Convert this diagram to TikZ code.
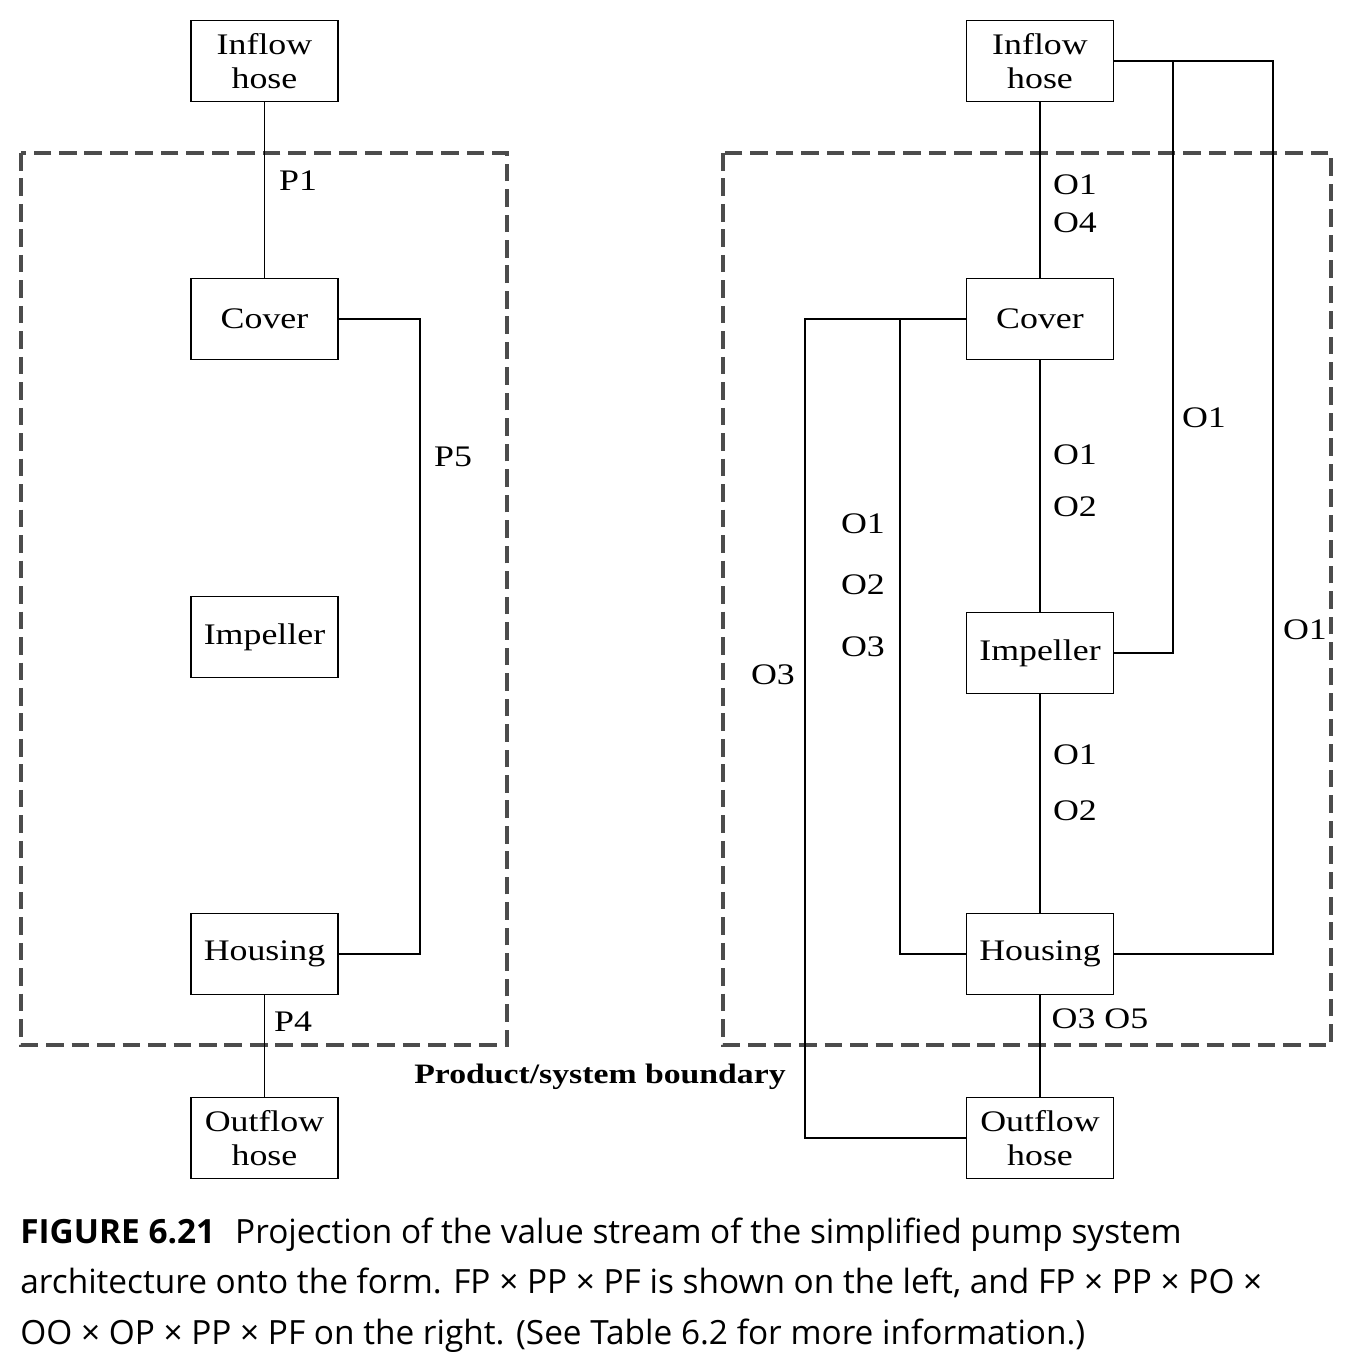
\documentclass[tikz,border=0pt]{standalone}
\usepackage{fontspec}
\setmainfont{Liberation Serif}[FakeStretch=1.2]
\newfontfamily\capfont{Open Sans}
\usepackage{tikz}
\usetikzlibrary{positioning}

\tikzset{
  part/.style={draw, line width=1.1pt, minimum width=2.94cm, minimum height=1.62cm,
    align=center, inner sep=0pt, font=\fontsize{17}{19}\selectfont},
  link/.style={line width=1pt},
  lbl/.style={font=\fontsize{17}{19}\selectfont, inner sep=0pt},
  boundary/.style={draw=black!70, line width=2.3pt, dash pattern=on 10pt off 4.5pt}
}

\begin{document}
\begin{tikzpicture}[x=0.02cm, y=-0.02cm]
\useasboundingbox (0,0) rectangle (1353,1371);

% system boundaries
\draw[boundary] (21,153) rectangle (507,1045);
\draw[boundary] (723,153) rectangle (1331,1045);

% left: FP x PP x PF
\node[part] (inf1) at (264.5,61) {Inflow\\hose};
\node[part] (cov1) at (264.5,319) {Cover};
\node[part] (imp1) at (264.5,637) {Impeller};
\node[part] (hou1) at (264.5,954) {Housing};
\node[part] (out1) at (264.5,1138) {Outflow\\hose};

\draw[link] (inf1) -- (cov1);
\draw[link] (hou1) -- (out1);
\draw[link] (cov1.east) -- ++(81,0) |- (hou1.east);

\node[lbl] at (298,181) {P1};
\node[lbl] at (453,457) {P5};
\node[lbl] at (293,1022) {P4};

% right: FP x PP x PO x OO x OP x PP x PF
\node[part] (inf2) at (1040,61) {Inflow\\hose};
\node[part] (cov2) at (1040,319) {Cover};
\node[part] (imp2) at (1040,653) {Impeller};
\node[part] (hou2) at (1040,954) {Housing};
\node[part] (out2) at (1040,1138) {Outflow\\hose};

\draw[link] (inf2) -- (cov2);
\draw[link] (cov2) -- (imp2);
\draw[link] (imp2) -- (hou2);
\draw[link] (hou2) -- (out2);

\coordinate (topR) at (1273,61);
\coordinate (brA) at (1173,61);
\draw[link] (inf2.east) -- (topR) |- (hou2.east);
\draw[link] (brA) |- (imp2.east);

\coordinate (farL) at (805,319);
\coordinate (brB) at (900,319);
\draw[link] (cov2.west) -- (farL) |- (out2.west);
\draw[link] (brB) |- (hou2.west);

\node[lbl] at (1075,185) {O1};
\node[lbl] at (1075,223) {O4};
\node[lbl] at (1075,455) {O1};
\node[lbl] at (1075,507) {O2};
\node[lbl] at (1075,755) {O1};
\node[lbl] at (1075,811) {O2};
\node[lbl] at (1100,1019) {O3 O5};
\node[lbl] at (1204,418) {O1};
\node[lbl] at (1305,630) {O1};
\node[lbl] at (863,524) {O1};
\node[lbl] at (863,585) {O2};
\node[lbl] at (863,647) {O3};
\node[lbl] at (773,675) {O3};

\node[lbl, font=\fontsize{16}{18}\selectfont\bfseries] (bnd) at (600,1077) {Product/system boundary};

% caption
\node[anchor=north west, align=left, inner sep=0pt, font=\capfont\fontsize{19}{28.5}\selectfont]
  (cap) at (20,1218)
  {\textbf{FIGURE 6.21}\hspace{0.6em}Projection of the value stream of the simplified pump system\\
   architecture onto the form. FP × PP × PF is shown on the left, and FP × PP × PO ×\\
   OO × OP × PP × PF on the right. (See Table 6.2 for more information.)};
\end{tikzpicture}
\end{document}
